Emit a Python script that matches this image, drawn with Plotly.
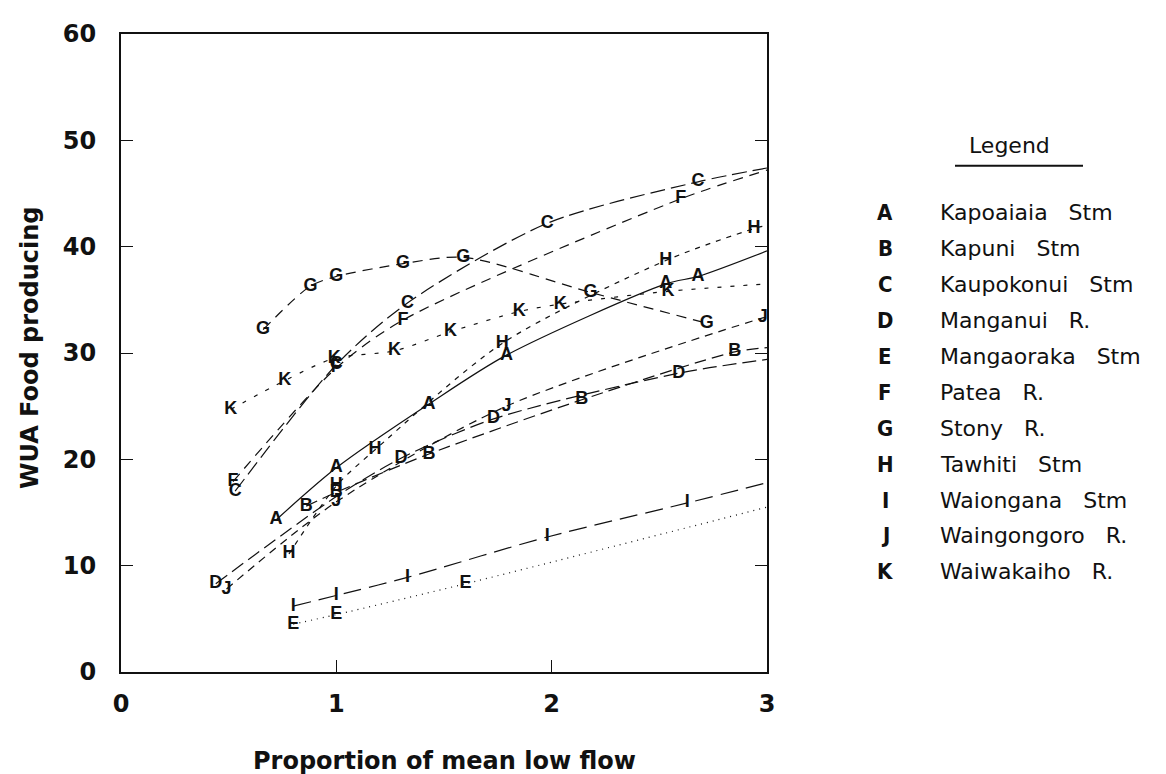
import plotly.graph_objects as go

# ---------------- data ----------------
codes = ["A", "B", "C", "D", "E", "F", "G", "H", "I", "J", "K"]
names = ["Kapoaiaia   Stm", "Kapuni   Stm", "Kaupokonui   Stm", "Manganui   R.",
         "Mangaoraka   Stm", "Patea   R.", "Stony   R.", "Tawhiti   Stm",
         "Waiongana   Stm", "Waingongoro   R.", "Waiwakaiho   R."]

A_x = [0.72, 1.0, 1.43, 1.79, 2.53, 2.68]
A_y = [14.3, 19.2, 25.2, 29.8, 36.5, 37.2]
B_x = [0.86, 1.0, 1.43, 2.14, 2.85]
B_y = [15.6, 16.9, 20.5, 25.6, 30.1]
C_x = [0.53, 1.0, 1.33, 1.98, 2.68]
C_y = [17.0, 28.9, 34.7, 42.2, 46.1]
D_x = [0.44, 1.30, 1.73, 2.59]
D_y = [8.3, 20.1, 23.8, 28.1]
E_x = [0.80, 1.0, 1.60]
E_y = [4.5, 5.4, 8.3]
F_x = [0.52, 1.0, 1.31, 2.60]
F_y = [17.9, 28.6, 33.1, 44.5]
G_x = [0.66, 0.88, 1.0, 1.31, 1.59, 2.18, 2.72]
G_y = [32.2, 36.3, 37.2, 38.4, 39.0, 35.7, 32.8]
H_x = [0.78, 1.0, 1.18, 1.77, 2.53, 2.94]
H_y = [11.1, 17.5, 20.9, 30.9, 38.7, 41.7]
I_x = [0.80, 1.0, 1.33, 1.98, 2.63]
I_y = [6.2, 7.2, 8.9, 12.7, 15.9]
J_x = [0.49, 1.0, 1.79, 2.98]
J_y = [7.8, 16.0, 25.0, 33.3]
K_x = [0.51, 0.76, 0.99, 1.27, 1.53, 1.85, 2.04, 2.54]
K_y = [24.7, 27.4, 29.5, 30.2, 32.0, 33.9, 34.6, 35.8]

# curve values at the right edge (x = 3) where the fitted curve continues
end_x = 3.0
end_y = {"A": 39.6, "B": 30.5, "C": 47.4, "D": 29.4, "E": 15.5, "F": 47.2,
         "G": None, "H": 42.0, "I": 17.8, "J": 33.4, "K": 36.5}
# extra point on curve D without a drawn letter
D_mid_x = [1.0]
D_mid_y = [16.5]

x_ticks = [0, 1, 2, 3]
y_ticks = [0, 10, 20, 30, 40, 50, 60]

series_x = {"A": A_x, "B": B_x, "C": C_x, "D": D_x, "E": E_x, "F": F_x,
            "G": G_x, "H": H_x, "I": I_x, "J": J_x, "K": K_x}
series_y = {"A": A_y, "B": B_y, "C": C_y, "D": D_y, "E": E_y, "F": F_y,
            "G": G_y, "H": H_y, "I": I_y, "J": J_y, "K": K_y}

# ---------------- styles ----------------
dashes = {"A": "solid", "B": "12px,6px", "C": "15px,6px", "D": "14px,6px",
          "E": "1px,5px", "F": "10px,7px", "G": "10px,7px", "H": "5px,6px",
          "I": "18px,8px", "J": "8px,6px", "K": "4px,9px"}
INK = "#111111"
OFF = 8                      # page body margin of the html page
W, H = 1166 - OFF, 774 - OFF
L, R, T, B = 121 - OFF, 767 - OFF, 28 - OFF, 672 - OFF  # plot area in figure pixels


def px_x(px):
    """page pixel x -> paper coordinate"""
    return (px - OFF - L) / (R - L)


def px_y(py):
    """page pixel y -> paper coordinate"""
    return (B - (py - OFF)) / (B - T)


fig = go.Figure()

for c in codes:
    xs = list(series_x[c])
    ys = list(series_y[c])
    if c == "D":
        pts = sorted(zip(xs + D_mid_x, ys + D_mid_y))
        xs_l = [p[0] for p in pts]
        ys_l = [p[1] for p in pts]
    else:
        xs_l, ys_l = xs[:], ys[:]
    if end_y[c] is not None:
        xs_l.append(end_x)
        ys_l.append(end_y[c])
    fig.add_trace(go.Scatter(
        x=xs_l, y=ys_l, mode="lines",
        line=dict(color=INK, width=1.2, dash=dashes[c], shape="spline", smoothing=0.8),
        hoverinfo="skip", showlegend=False))

for c in codes:
    fig.add_trace(go.Scatter(
        x=series_x[c], y=series_y[c], mode="text",
        text=[c] * len(series_x[c]), textposition="middle center",
        textfont=dict(family="Liberation Sans, Arial, sans-serif", size=18,
                      color=INK, weight="bold"),
        hoverinfo="skip", showlegend=False))

axis_font = dict(family="DejaVu Sans, sans-serif", size=24, color=INK, weight="bold")

fig.update_xaxes(range=[0, 3], tickvals=x_ticks, ticktext=[str(v) for v in x_ticks],
                 ticks="inside", ticklen=12, tickwidth=1, tickcolor=INK,
                 showline=True, linecolor=INK, linewidth=2, mirror=True,
                 showgrid=False, zeroline=False, tickfont=axis_font,
                 ticklabelstandoff=9)
fig.update_yaxes(range=[0, 60], tickvals=y_ticks, ticktext=[str(v) for v in y_ticks],
                 ticks="inside", ticklen=12, tickwidth=1, tickcolor=INK,
                 showline=True, linecolor=INK, linewidth=2, mirror="ticks",
                 showgrid=False, zeroline=False, tickfont=axis_font,
                 ticklabelstandoff=18)

annotations = []
# axis titles
annotations.append(dict(text="Proportion of mean low flow", xref="paper", yref="paper",
                        x=0.5, y=px_y(762), xanchor="center", yanchor="middle",
                        showarrow=False, font=axis_font))
annotations.append(dict(text="WUA Food producing", xref="paper", yref="paper",
                        x=px_x(30), y=px_y(345), xanchor="center", yanchor="middle",
                        textangle=-90, showarrow=False, font=axis_font))

# legend block
name_font = dict(family="DejaVu Sans, sans-serif", size=22, color=INK)
code_font = dict(family="Liberation Sans Narrow, DejaVu Sans Condensed, Liberation Sans, sans-serif",
                 size=22, color=INK, weight="bold")
annotations.append(dict(text="Legend", xref="paper", yref="paper",
                        x=px_x(1009), y=px_y(141), xanchor="center", yanchor="middle",
                        showarrow=False, font=name_font))
row0, step = 208, 36.3
for i, (c, n) in enumerate(zip(codes, names)):
    yy = px_y(row0 + i * step)
    annotations.append(dict(text=c, xref="paper", yref="paper", x=px_x(885), y=yy,
                            xanchor="center", yanchor="middle", showarrow=False,
                            font=code_font))
    annotations.append(dict(text=n.replace(" ", "\u00a0"), xref="paper", yref="paper",
                            x=px_x(938), y=yy, xanchor="left", yanchor="middle",
                            showarrow=False, font=name_font))

fig.update_layout(
    width=W, height=H, autosize=False,
    margin=dict(l=L, r=W - R, t=T, b=H - B),
    paper_bgcolor="white", plot_bgcolor="white",
    annotations=annotations,
    shapes=[dict(type="line", xref="paper", yref="paper",
                 x0=px_x(955), x1=px_x(1083), y0=px_y(161), y1=px_y(161),
                 line=dict(color=INK, width=2))],
    showlegend=False,
)

fig.write_html("out.html")
